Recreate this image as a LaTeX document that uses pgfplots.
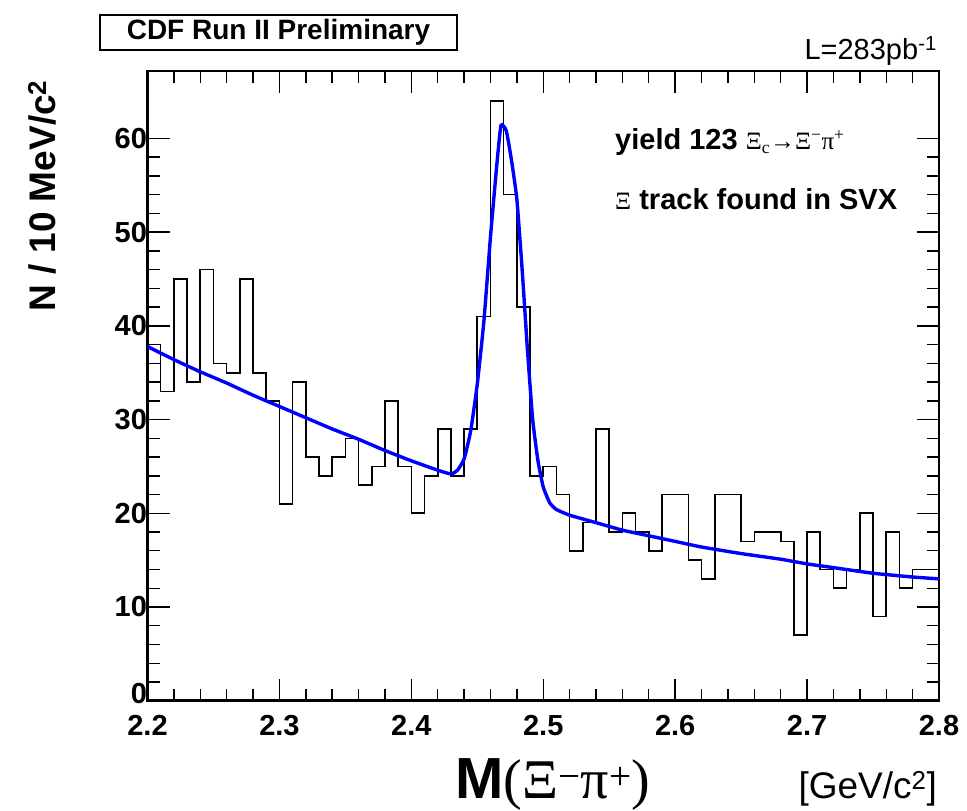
\documentclass[border=0pt]{standalone}
\usepackage{fontspec}
\setmainfont{Liberation Sans}
\newfontfamily\sym{Liberation Serif}
\usepackage{pgfplots}
\pgfplotsset{compat=1.18}
\begin{document}
\begin{tikzpicture}
\useasboundingbox (0pt,0pt) rectangle (967pt,811pt);
\begin{axis}[
  at={(147.5pt,110.3pt)}, anchor=south west,
  scale only axis, width=791.5pt, height=629.7pt,
  xmin=2.2, xmax=2.8, ymin=0, ymax=67.2,
  xtick={2.2,2.3,2.4,2.5,2.6,2.7,2.8},
  xticklabels={2.2,2.3,2.4,2.5,2.6,2.7,2.8},
  ytick={0,10,20,30,40,50,60},
  yticklabels={\raisebox{-3pt}[0pt][0pt]{0},10,20,30,40,50,60},
  minor x tick num=4, minor y tick num=4,
  tick align=inside,
  major tick length=22pt, minor tick length=12pt,
  tick style={line width=1.4pt, black},
  axis line style={line width=2.6pt},
  /pgf/number format/assume math mode=true,
  xticklabel style={font=\fontsize{29}{31}\selectfont\bfseries, yshift=-11pt},
  yticklabel style={font=\fontsize{29}{31}\selectfont\bfseries, xshift=3pt},
  clip=false,
]
\addplot[const plot, black, line width=1.6pt] coordinates {
(2.20,38) (2.21,33) (2.22,45) (2.23,34) (2.24,46) (2.25,36) (2.26,35) (2.27,45) (2.28,35) (2.29,32)
(2.30,21) (2.31,34) (2.32,26) (2.33,24) (2.34,26) (2.35,28) (2.36,23) (2.37,25) (2.38,32) (2.39,25)
(2.40,20) (2.41,24) (2.42,29) (2.43,24) (2.44,29) (2.45,41) (2.46,64) (2.47,54) (2.48,42) (2.49,24)
(2.50,25) (2.51,22) (2.52,16) (2.53,19) (2.54,29) (2.55,18) (2.56,20) (2.57,18) (2.58,16) (2.59,22)
(2.60,22) (2.61,15) (2.62,13) (2.63,22) (2.64,22) (2.65,17) (2.66,18) (2.67,18) (2.68,17) (2.69,7)
(2.70,18) (2.71,14) (2.72,12) (2.73,14) (2.74,20) (2.75,9) (2.76,18) (2.77,12) (2.78,14) (2.79,14)
(2.80,14)};
\addplot[smooth, tension=0.3, color={rgb,255:red,0;green,0;blue,255}, line width=3.4pt] coordinates {
(2.20,37.8) (2.22,36.4) (2.24,35.1) (2.26,33.9) (2.28,32.6) (2.30,31.4) (2.32,30.2) (2.34,29.0)
(2.36,27.9) (2.38,26.7) (2.40,25.6) (2.42,24.6) (2.43,24.2) (2.435,24.6) (2.44,25.8) (2.445,28.8)
(2.45,33.8) (2.455,40.5) (2.46,49.5) (2.465,57.5) (2.468,61.4) (2.472,60.8) (2.476,57.6) (2.48,53.5)
(2.484,46.0) (2.488,37.5) (2.492,30.0) (2.496,25.6) (2.50,22.8) (2.505,21.1) (2.51,20.4) (2.52,19.8)
(2.54,19.0) (2.56,18.2) (2.58,17.6) (2.60,17.0) (2.62,16.4) (2.65,15.7) (2.68,15.1) (2.70,14.6)
(2.72,14.2) (2.75,13.6) (2.78,13.2) (2.80,13.0)};
\end{axis}
% in-plot text
\node[anchor=base west, inner sep=0pt, font=\fontsize{29}{31}\selectfont\bfseries] at (615pt,661pt)
  {yield 123 {\sym\mdseries\fontsize{25}{27}\selectfont Ξ\textsubscript{c}→Ξ\textsuperscript{−}π\textsuperscript{+}}};
\node[anchor=base west, inner sep=0pt, font=\fontsize{29}{31}\selectfont\bfseries] at (615pt,601pt)
  {{\sym\mdseries\fontsize{25}{27}\selectfont Ξ} track found in SVX};
% title box
\node[draw, line width=1.4pt, minimum width=357pt, minimum height=35pt, inner sep=0pt,
  font=\fontsize{28}{30}\selectfont\bfseries] at (278.5pt,778.5pt) {CDF Run II Preliminary};
\node[anchor=base east, inner sep=0pt, font=\fontsize{29}{31}\selectfont] at (937pt,751pt)
  {L=283pb\textsuperscript{-1}};
% y label
\node[rotate=90, anchor=east, inner sep=0pt, font=\fontsize{37}{39}\selectfont\bfseries] at (42pt,731pt)
  {N / 10 MeV/c\textsuperscript{2}};
% x label
\node[anchor=base west, inner sep=0pt] at (455pt,12pt)
  {{\fontsize{58}{62}\selectfont\bfseries M}{\sym\fontsize{56}{60}\selectfont(Ξ\textsuperscript{−}π\textsuperscript{+})}};
\node[anchor=base east, inner sep=0pt, font=\fontsize{37}{40}\selectfont] at (937pt,12pt)
  {[GeV/c\textsuperscript{2}]};
\end{tikzpicture}
\end{document}
